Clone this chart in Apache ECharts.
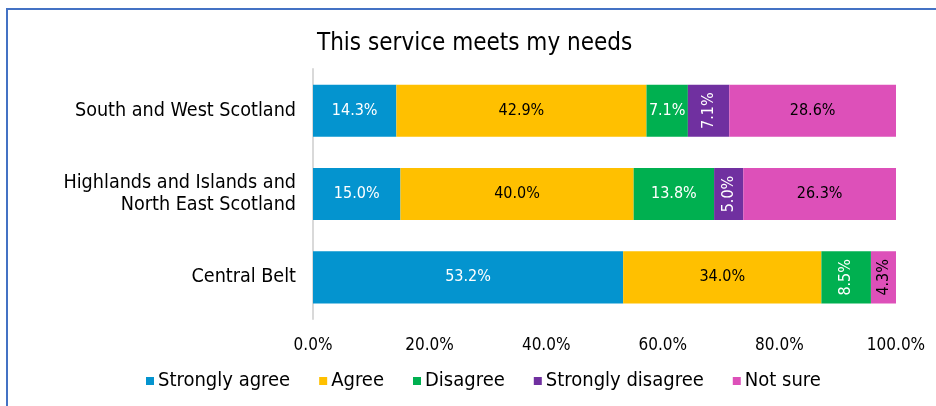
<!DOCTYPE html>
<html>
<head>
<meta charset="utf-8">
<script src="https://cdn.jsdelivr.net/npm/echarts@6/dist/echarts.min.js"></script>
<style>
  html, body { margin: 0; padding: 0; background: #ffffff; }
  #chart { width: 936px; height: 406px; }
</style>
</head>
<body>
<div id="chart"></div>
<script>
// Survey responses by region (percent of respondents)
const regions = ['South and West Scotland', 'Highlands and Islands and\nNorth East Scotland', 'Central Belt'];
const responseNames = ['Strongly agree', 'Agree', 'Disagree', 'Strongly disagree', 'Not sure'];
const stronglyAgree = [14.3, 15.0, 53.2];
const agree = [42.9, 40.0, 34.0];
const disagree = [7.1, 13.8, 8.5];
const stronglyDisagree = [7.1, 5.0, null];
const notSure = [28.6, 26.3, 4.3];
const axisTicks = [0, 20, 40, 60, 80, 100];

const seriesValues = [stronglyAgree, agree, disagree, stronglyDisagree, notSure];
const colors = ['#0494cf', '#ffc000', '#00b050', '#7030a0', '#dd50b9'];
const labelColors = ['#ffffff', '#000000', '#ffffff', '#ffffff', '#000000'];

const FONT = '"DejaVu Sans Condensed", "DejaVu Sans", sans-serif';

// narrow segments get their label turned upright
function isUpright(seriesIdx, catIdx) {
  if (seriesIdx === 3) return true;
  return catIdx === 2 && (seriesIdx === 2 || seriesIdx === 4);
}

const series = responseNames.map((name, s) => ({
  name: name,
  type: 'bar',
  stack: 'total',
  barWidth: '62.5%',
  itemStyle: { color: colors[s] },
  label: {
    show: true,
    position: 'inside',
    color: labelColors[s],
    fontFamily: FONT,
    fontSize: 16,
    formatter: p => p.value.toFixed(1) + '%'
  },
  data: seriesValues[s].map((v, c) => (
    v === null ? null : { value: v, label: { rotate: isUpright(s, c) ? 90 : 0 } }
  ))
}));

const chart = echarts.init(document.getElementById('chart'), null, { renderer: 'canvas' });
chart.setOption({
  animation: false,
  backgroundColor: '#ffffff',
  title: {
    text: 'This service meets my needs',
    left: 312,
    top: 27,
    textStyle: { fontFamily: FONT, fontSize: 24, fontWeight: 'normal', color: '#000000' }
  },
  legend: {
    data: responseNames,
    left: 141,
    top: 366,
    itemWidth: 8,
    itemHeight: 8,
    itemGap: 29,
    icon: 'rect',
    textStyle: { fontFamily: FONT, fontSize: 20, color: '#000000', padding: [0, 0, 0, -1] }
  },
  grid: { left: 313, right: 40, top: 69, bottom: 87 },
  xAxis: {
    type: 'value',
    min: axisTicks[0],
    max: axisTicks[axisTicks.length - 1],
    interval: axisTicks[1] - axisTicks[0],
    axisLine: { show: false },
    axisTick: { show: false },
    splitLine: { show: false },
    axisLabel: {
      margin: 18,
      fontFamily: FONT,
      fontSize: 17,
      color: '#000000',
      formatter: v => v.toFixed(1) + '%'
    }
  },
  yAxis: {
    type: 'category',
    data: regions,
    inverse: true,
    axisLine: { show: true, lineStyle: { color: '#d9d9d9', width: 2 } },
    axisTick: { show: false },
    axisLabel: {
      margin: 17,
      fontFamily: FONT,
      fontSize: 19.6,
      lineHeight: 22,
      color: '#000000',
      align: 'right'
    }
  },
  graphic: [
    { type: 'line', shape: { x1: 7, y1: 9, x2: 936, y2: 9 }, style: { stroke: '#4472c4', lineWidth: 2 } },
    { type: 'line', shape: { x1: 7, y1: 8, x2: 7, y2: 406 }, style: { stroke: '#4472c4', lineWidth: 2 } }
  ],
  series: series
});
</script>
</body>
</html>
